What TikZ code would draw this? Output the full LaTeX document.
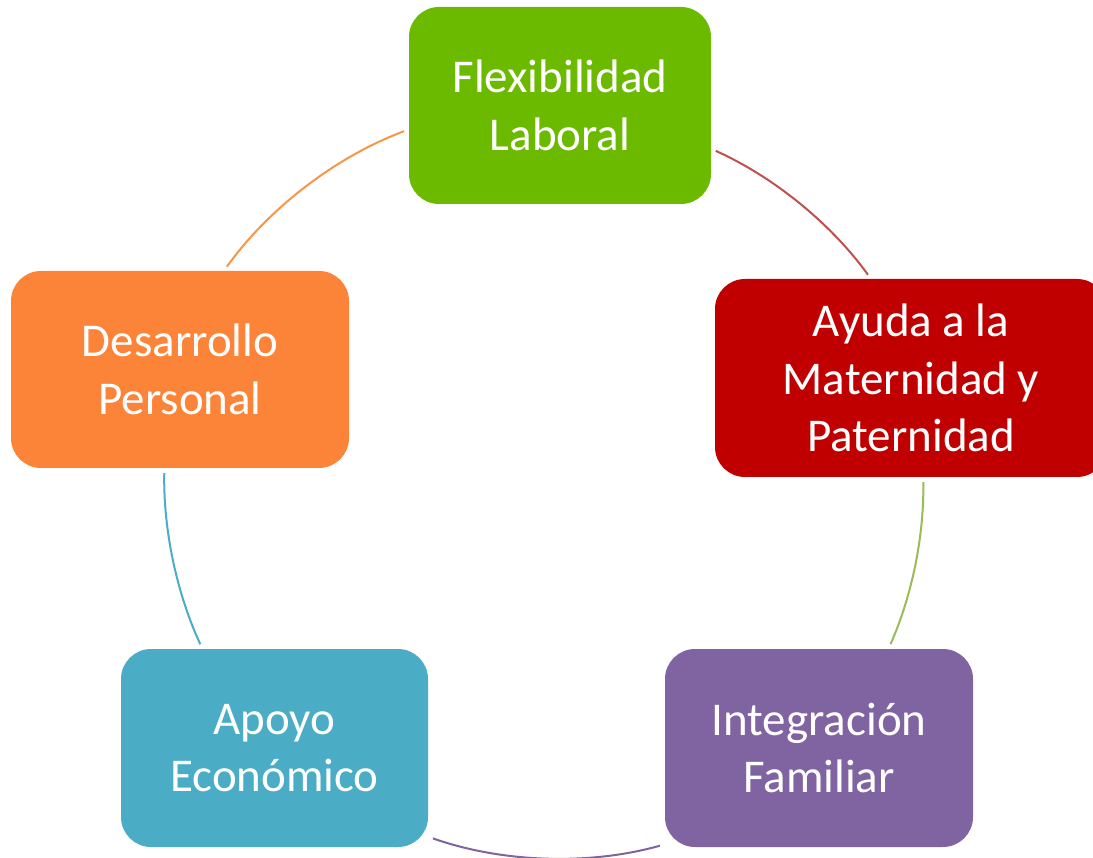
\documentclass[tikz,border=0pt]{standalone}
\usepackage{fontspec}
\setmainfont{Carlito}
\definecolor{cgreen}{RGB}{108,186,0}
\definecolor{cred}{RGB}{192,0,0}
\definecolor{corange}{RGB}{252,132,56}
\definecolor{cblue}{RGB}{75,172,198}
\definecolor{cpurple}{RGB}{128,100,162}
\definecolor{lgreen}{RGB}{155,187,89}
\definecolor{lred}{RGB}{192,80,77}
\definecolor{lorange}{RGB}{247,150,70}
\begin{document}
\begin{tikzpicture}[x=1pt,y=1pt,
  box/.style={rectangle, rounded corners=30pt, inner sep=0pt, minimum height=197pt,
    text=white, align=center, font=\fontsize{47}{57.5}\selectfont},
  ring/.style={line width=2pt, bend left=#1, looseness=.85, shorten <=5pt, shorten >=5pt}]
\useasboundingbox (0,0) rectangle (1093,-858);
\clip (0,0) rectangle (1093,-858);
\node[box, fill=cgreen, minimum width=302pt] (fl) at (560,-105.5){Flexibilidad\\Laboral};
\node[box, fill=cred, minimum width=392pt, minimum height=198pt] (am) at (911,-378){Ayuda a la\\Maternidad y\\Paternidad};
\node[box, fill=cpurple, minimum width=308pt, minimum height=198pt] (if) at (819,-748){Integración\\Familiar};
\node[box, fill=cblue, minimum width=307pt, minimum height=198pt] (ae) at (274.5,-748){Apoyo\\Económico};
\node[box, fill=corange, minimum width=338pt] (dp) at (180,-369.5){Desarrollo\\Personal};
\draw[ring=17, draw=lorange] (dp.66) to (fl.189);
\draw[ring=15, draw=lred] (fl.344) to (am.112);
\draw[ring=12.5, draw=lgreen] (am.277) to (if.55);
\draw[ring=17.5, draw=cpurple] (if.212) to (ae.330);
\draw[ring=13, draw=cblue] (ae.126) to (dp.261);
\end{tikzpicture}
\end{document}
